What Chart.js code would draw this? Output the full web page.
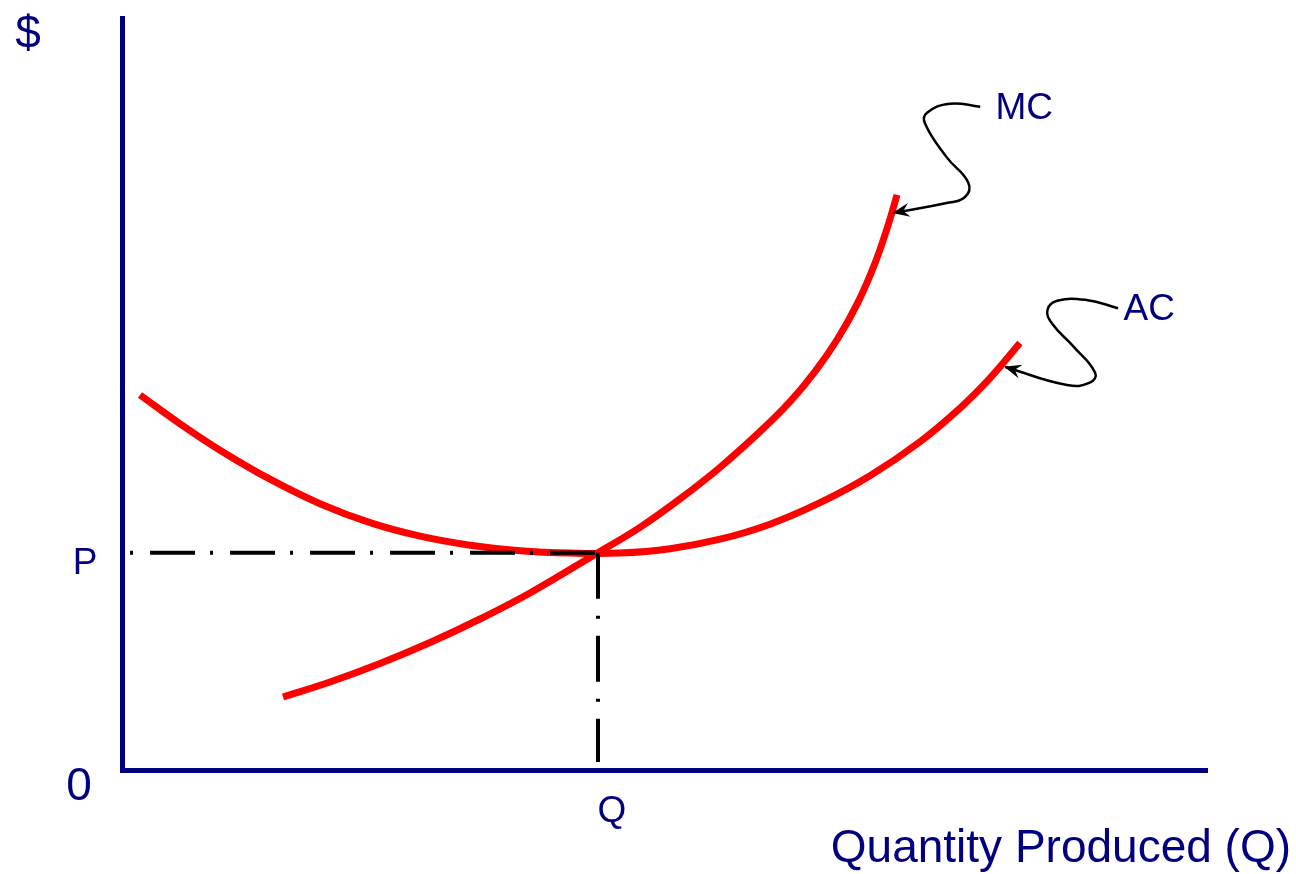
<!DOCTYPE html>
<html>
<head>
<meta charset="utf-8">
<script src="https://cdn.jsdelivr.net/npm/chart.js@4"></script>
<style>
  html, body { margin: 0; padding: 0; background: #fff; }
  #wrap { width: 1296px; height: 874px; position: relative; }
</style>
</head>
<body>
<div id="wrap"><canvas id="costChart"></canvas></div>
<script>
// cost curves (x = quantity, y = $)
const acX = [1.66, 5.35, 9.03, 13.64, 18.25, 22.86, 27.47, 32.07, 36.68, 41.29, 45.90, 50.51, 55.12, 59.72, 64.33, 68.94, 73.55, 77.24, 80.0, 82.76];
const acY = [49.87, 46.04, 42.53, 38.67, 35.41, 32.89, 31.09, 29.89, 29.16, 28.85, 28.85, 29.43, 30.69, 32.69, 35.55, 39.14, 43.66, 48.13, 52.11, 56.78];

const mcX = [14.84, 19.17, 23.78, 28.39, 32.99, 37.60, 43.87, 47.74, 51.43, 55.12, 58.80, 61.57, 63.87, 65.99, 67.83, 69.40, 70.60, 71.43];
const mcY = [9.71, 11.70, 14.16, 16.95, 20.08, 23.54, 28.9, 32.27, 36.05, 40.25, 44.99, 48.98, 52.97, 57.41, 62.19, 67.39, 72.41, 76.48];

// equilibrium point
const pLevel = 28.9;
const qLevel = 43.87;

// squiggly pointers from the labels to the curves
const mcPointerX = [79.1, 76.3, 74.2, 74.0, 76.0, 78.0, 77.7, 76.0, 71.1];
const mcPointerY = [88.2, 88.6, 87.4, 86.0, 81.5, 78.1, 76.2, 75.4, 74.1];
const acPointerX = [91.8, 88.9, 86.2, 85.3, 85.7, 87.7, 89.7, 89.2, 87.1, 81.4];
const acPointerY = [61.4, 62.5, 62.4, 61.2, 59.4, 56.3, 52.8, 51.5, 51.2, 53.6];

const curveLabels = ["MC", "AC"];
const axisLabels = { y: "$", origin: "0", p: "P", q: "Q", x: "Quantity Produced (Q)" };

const NAVY = "#000080";
const FONT = '"Liberation Sans", Arial, sans-serif';

const toPoints = (xs, ys) => xs.map((x, i) => ({ x: x, y: ys[i] }));

function curve(label, xs, ys) {
    return {
        label: label,
        data: toPoints(xs, ys),
        borderColor: "#ff0000",
        borderWidth: 7,
        borderCapStyle: "butt",
        tension: 0.4,
        pointRadius: 0,
        order: 1,
    };
}

function pointer(label, xs, ys) {
    return {
        label: label,
        data: toPoints(xs, ys),
        borderColor: "#000",
        borderWidth: 2.5,
        tension: 0.45,
        pointRadius: 0,
        order: 2,
        isPointer: true,
    };
}

// arrow heads on the pointers + all the text labels
const annotations = {
    id: "annotations",
    afterDatasetsDraw(chart) {
        const ctx = chart.ctx;
        const xs = chart.scales.x, ys = chart.scales.y;
        const area = chart.chartArea;

        chart.data.datasets.forEach((ds, i) => {
            if (!ds.isPointer) return;
            const pts = chart.getDatasetMeta(i).data;
            const tip = pts[pts.length - 1];
            const prev = pts[pts.length - 2];
            const ang = Math.atan2(tip.y - prev.y, tip.x - prev.x);
            ctx.save();
            ctx.translate(tip.x, tip.y);
            ctx.rotate(ang);
            ctx.fillStyle = "#000";
            ctx.beginPath();
            ctx.moveTo(1, 0);
            ctx.lineTo(-16, -7);
            ctx.lineTo(-10, 0);
            ctx.lineTo(-16, 7);
            ctx.closePath();
            ctx.fill();
            ctx.restore();
        });

        ctx.save();
        ctx.fillStyle = NAVY;
        ctx.textBaseline = "alphabetic";

        ctx.font = "37px " + FONT;
        ctx.textAlign = "left";
        ctx.fillText(curveLabels[0], xs.getPixelForValue(80.5), ys.getPixelForValue(86.6));
        ctx.fillText(curveLabels[1], xs.getPixelForValue(92.3), ys.getPixelForValue(59.8));

        ctx.textAlign = "center";
        ctx.fillText(axisLabels.p, area.left - 37, ys.getPixelForValue(pLevel) + 21);
        ctx.fillText(axisLabels.q, xs.getPixelForValue(qLevel) + 14, area.bottom + 52);

        ctx.font = "46px " + FONT;
        ctx.fillText(axisLabels.y, area.left - 94, area.top + 30);
        ctx.fillText(axisLabels.origin, area.left - 43, area.bottom + 30);
        ctx.textAlign = "right";
        ctx.fillText(axisLabels.x, 1291, 862);
        ctx.restore();
    },
};

new Chart(document.getElementById("costChart").getContext("2d"), {
    type: "line",
    data: {
        datasets: [
            {
                label: "P guide",
                data: [{ x: 0.74, y: pLevel }, { x: qLevel, y: pLevel }],
                borderColor: "#000",
                borderWidth: 4,
                borderDash: [3, 17, 45, 15],
                borderCapStyle: "butt",
                pointRadius: 0,
                order: 0,
            },
            {
                label: "Q guide",
                data: [{ x: qLevel, y: pLevel }, { x: qLevel, y: 1.06 }],
                borderColor: "#000",
                borderWidth: 4,
                borderDash: [46, 17, 3, 17],
                borderCapStyle: "butt",
                pointRadius: 0,
                order: 0,
            },
            curve("AC", acX, acY),
            curve("MC", mcX, mcY),
            pointer("MC pointer", mcPointerX, mcPointerY),
            pointer("AC pointer", acPointerX, acPointerY),
        ],
    },
    options: {
        responsive: true,
        maintainAspectRatio: false,
        animation: false,
        layout: {
            padding: { left: 122, top: 18, right: 89, bottom: 104 },
        },
        plugins: {
            legend: { display: false },
            tooltip: { enabled: false },
        },
        scales: {
            x: {
                type: "linear",
                min: 0,
                max: 100,
                grid: { display: false, drawTicks: false },
                ticks: { display: false },
                border: { display: true, color: NAVY, width: 5 },
            },
            y: {
                type: "linear",
                min: 0,
                max: 100,
                grid: { display: false, drawTicks: false },
                ticks: { display: false },
                border: { display: true, color: NAVY, width: 5 },
            },
        },
    },
    plugins: [annotations],
});
</script>
</body>
</html>
